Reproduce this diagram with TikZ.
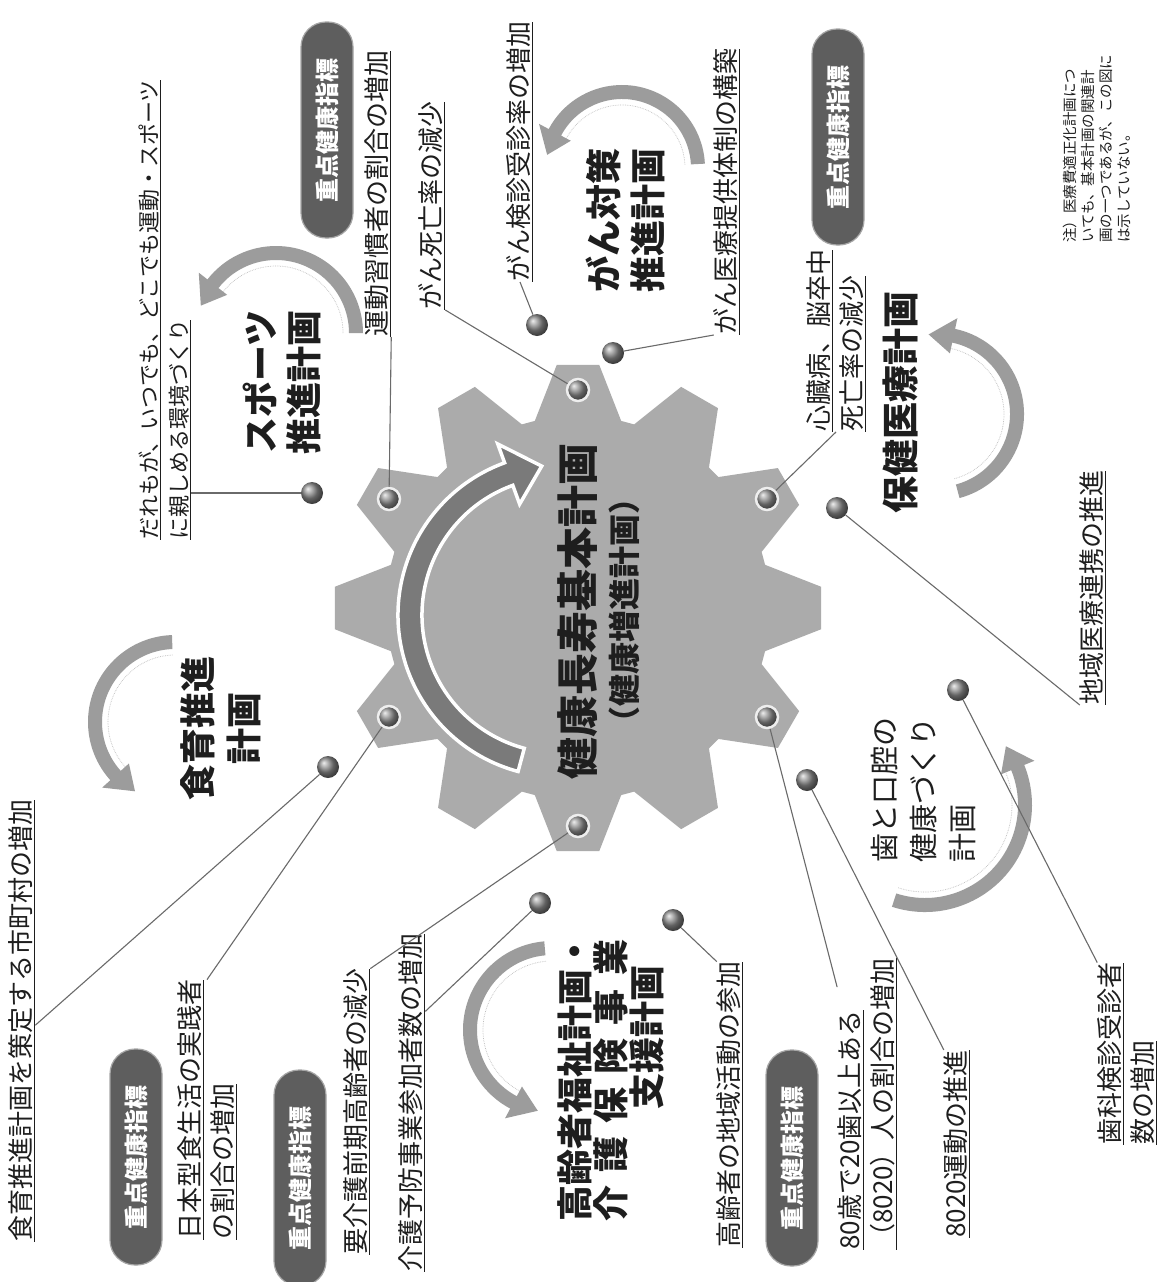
\documentclass[tikz,border=0pt]{standalone}
\usepackage{fontspec}
\setmainfont{Noto Sans CJK JP}
\usetikzlibrary{calc}
\definecolor{gearc}{HTML}{ABABAB}
\definecolor{arrc}{HTML}{7A7A7A}
\definecolor{parc}{HTML}{9C9C9C}
\definecolor{pillc}{HTML}{5E5E5E}
\definecolor{txtc}{HTML}{1E1E1E}
\definecolor{linec}{HTML}{6A6A6A}
\newcommand\planarrow[6]{%
  \pgfmathsetmacro\rO{#3+7}\pgfmathsetmacro\rI{#3-7}%
  \pgfmathsetmacro\hO{#3+18}\pgfmathsetmacro\hI{#3-18}%
  \pgfmathsetmacro\rS{#3-13}%
  \begin{scope}[shift={(#1,#2)}]
    \draw[black!25, densely dotted, line width=0.7pt] (#4:\rS) arc[start angle=#4, end angle=#5, radius=\rS];
    \fill[parc] (#4:\rO) arc[start angle=#4, end angle=#5, radius=\rO] -- (#5:\hO) -- (#6:#3) -- (#5:\hI) -- (#5:\rI) arc[start angle=#5, end angle=#4, radius=\rI] -- cycle;
  \end{scope}}
\begin{document}
\begin{tikzpicture}[x=1pt,y=-1pt,
  lbl/.style={rotate=90, inner sep=0pt, align=left, text=txtc, font=\fontsize{26}{33}\selectfont},
  ttl/.style={rotate=90, inner sep=0pt, align=center, text=txtc, font=\bfseries\fontsize{36}{46}\selectfont},
  pill/.style={rotate=90, rectangle, rounded corners=25pt, fill=pillc, draw=black!35, line width=1.2pt, minimum width=216pt, minimum height=52pt, inner sep=0pt, text=white, font=\bfseries\fontsize{24}{24}\selectfont},
  bolt/.style={circle, minimum size=22pt, inner sep=0pt, ball color=black!45},
  gbolt/.style={bolt, draw=white!80!gearc, line width=2.5pt},
  conn/.style={draw=linec, line width=1.1pt},
]
\fill[white] (0,0) rectangle (1158,1282);
\useasboundingbox (0,0) rectangle (1158,1282);

% gear
\fill[gearc, shift={(578,608)}] (-103:192) \foreach \i in {0,...,11}{ -- ({\i*30-103}:192) -- ({\i*30-95}:244) -- ({\i*30-85}:244) -- ({\i*30-77}:192)} -- cycle;

% inner arrow
\begin{scope}[shift={(560,615)}]
\filldraw[fill=arrc, draw=white, line width=3.5pt, line join=miter] (105:162) arc[start angle=105, end angle=250, radius=162] -- (250:182) -- (263:150) -- (250:118) -- (250:138) arc[start angle=250, end angle=105, radius=138] -- cycle;
\end{scope}

% central title
\node[rotate=90, inner sep=0pt, text=txtc, font=\bfseries\fontsize{42}{42}\selectfont] (main1) at (578,611) {健康長寿基本計画};
\node[rotate=90, inner sep=0pt, text=txtc, font=\bfseries\fontsize{32}{32}\selectfont] (main2) at (624,610) {（健康増進計画）};

% plan arrows
\planarrow{175}{722}{80}{268}{138}{120}
\planarrow{276}{333}{80}{360}{218}{200}
\planarrow{622}{168}{76}{357}{208}{190}
\planarrow{937}{414}{80}{75}{-78}{-96}
\planarrow{925}{805}{100}{108}{-22}{-36}
\planarrow{552}{1030}{82}{265}{118}{100}

% plan titles
\node[ttl] (tshoku) at (221,728) {食育推進\\計画};
\node[ttl, font=\bfseries\fontsize{36}{43}\selectfont] (tsport) at (282,382) {スポーツ\\推進計画};
\node[ttl, font=\bfseries\fontsize{36}{44}\selectfont] (tgan) at (625,220) {がん対策\\推進計画};
\node[ttl, font=\bfseries\fontsize{37}{44}\selectfont] (thoken) at (900,402) {保健医療計画};
\node[rotate=90, inner sep=0pt, anchor=west, align=left, text=txtc, font=\fontsize{29}{39}\selectfont] (tha) at (923,863) {歯と口腔の\\健康づくり\\計画};
\node[ttl, anchor=west] (tk1) at (575,1222) {高齢者福祉計画・};
\node[ttl, anchor=west] (tk2) at (611,1222) {\makebox[282pt][s]{介\hfill 護\hfill 保\hfill 険\hfill 事\hfill 業}};
\node[ttl, anchor=west] (tk3) at (647,1110) {支援計画};

% pills
\node[pill] (p1) at (327,130) {重点健康指標};
\node[pill] (p2) at (838,137) {重点健康指標};
\node[pill] (p3) at (136,1157) {重点健康指標};
\node[pill] (p4) at (300,1178) {重点健康指標};
\node[pill] (p5) at (792,1158) {重点健康指標};

% labels
\node[lbl, anchor=west, font=\fontsize{22}{30}\selectfont] (dare) at (165,540) {\underline{だれもが、いつでも、どこでも運動・スポーツ}\\\underline{に親しめる環境づくり}};
\node[lbl, anchor=west] (undo) at (378,337) {\underline{運動習慣者の割合の増加}};
\node[lbl, anchor=west] (ganshi) at (432,310) {\underline{がん死亡率の減少}};
\node[lbl, anchor=west] (ganken) at (520,282) {\underline{がん検診受診率の増加}};
\node[lbl, anchor=west] (ganiryo) at (727,335) {\underline{がん医療提供体制の構築}};
\node[lbl, anchor=west] (shinzo) at (836,432) {\underline{心臓病、脳卒中}\\\underline{死亡率の減少}};
\node[lbl, anchor=west] (chiiki) at (1093,705) {\underline{地域医療連携の推進}};
\node[lbl, anchor=west] (shika) at (1127,1145) {\underline{歯科検診受診者}\\\underline{数の増加}};
\node[lbl, anchor=west] (hachi) at (867,1250) {\underline{80歳で20歯以上ある}\\\underline{（8020）人の割合の増加}};
\node[lbl, anchor=west] (u8020) at (957,1238) {\underline{8020運動の推進}};
\node[lbl, anchor=west] (katsu) at (730,1248) {\underline{高齢者の地域活動の参加}};
\node[lbl, anchor=west] (yobou) at (412,1272) {\underline{介護予防事業参加者数の増加}};
\node[lbl, anchor=west] (yokaigo) at (357,1255) {\underline{要介護前期高齢者の減少}};
\node[lbl, anchor=west] (nihon) at (207,1240) {\underline{日本型食生活の実践者}\\\underline{の割合の増加}};
\node[lbl, anchor=west] (shokuiku) at (22,1242) {\underline{食育推進計画を策定する市町村の増加}};

% note
\node[rotate=90, inner sep=0pt, anchor=north west, align=left, text=txtc, font=\fontsize{14.5}{18}\selectfont] (note) at (1063,243) {注）医療費適正化計画につ\\いても、基本計画の関連計\\画の一つであるが、この図に\\は示していない。};

% bolts on gear
\node[gbolt] (Gtop) at (578,390) {};
\node[gbolt] (Glt) at (389,499) {};
\node[gbolt] (Glb) at (389,717) {};
\node[gbolt] (Grt) at (767,499) {};
\node[gbolt] (Grb) at (767,717) {};
\node[gbolt] (Gbot) at (578,826) {};
% free bolts
\node[bolt] (Bsp) at (312,493) {};
\node[bolt] (Bshoku) at (328,767) {};
\node[bolt] (Bg1) at (537,325) {};
\node[bolt] (Bg2) at (613,353) {};
\node[bolt] (Bchiiki) at (837,508) {};
\node[bolt] (Bshika) at (958,690) {};
\node[bolt] (B8020) at (807,780) {};
\node[bolt] (Bkaigo) at (540,903) {};
\node[bolt] (Bkatsu) at (673,920) {};

% connectors
\draw[conn] (Glt) -- (undo.south west);
\draw[conn] (Bsp) -- (dare.south west |- Bsp);
\draw[conn] (Gtop) -- (ganshi.south west);
\draw[conn] (Bg1) -- (ganken.west);
\draw[conn] (Bg2) -- (ganiryo.north west);
\draw[conn] (Grt) -- (shinzo.west);
\draw[conn] (Bchiiki) -- (chiiki.north west);
\draw[conn] (Bshika) -- (shika.north east);
\draw[conn] (Grb) -- ($(hachi.north west)!0.9!(hachi.north east)$);
\draw[conn] (B8020) -- (u8020.north east);
\draw[conn] (Gbot) -- (yokaigo.south east);
\draw[conn] (Bkaigo) -- ($(yobou.south west)!0.77!(yobou.south east)$);
\draw[conn] (Glb) -- ($(nihon.north east)!0.5!(nihon.south east)$);
\draw[conn] (Bshoku) -- ($(shokuiku.south west)!0.49!(shokuiku.south east)$);
\draw[conn] (Bkatsu) -- (katsu.north east);
\end{tikzpicture}
\end{document}
